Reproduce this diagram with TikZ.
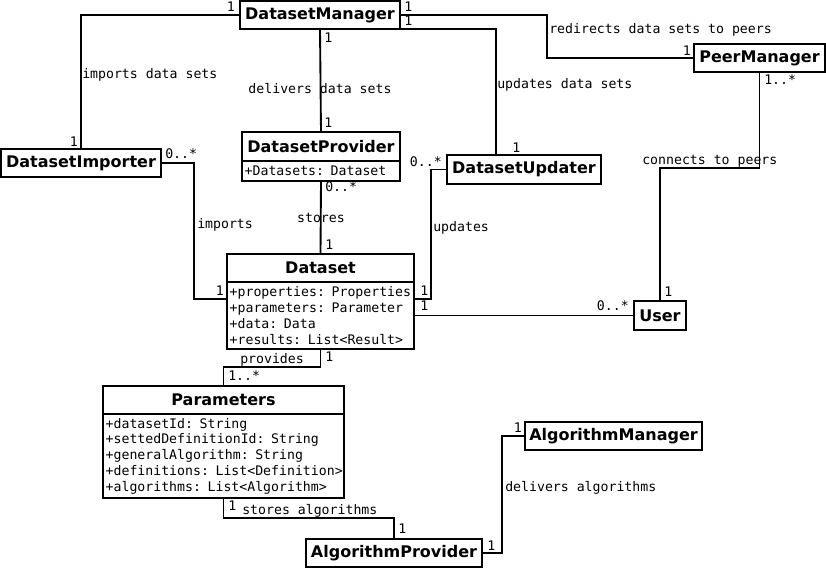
\documentclass[tikz,border=0pt]{standalone}
\usepackage{fontspec}
\setmainfont{DejaVu Sans}
\newfontfamily\umlmono{DejaVu Sans Mono}
\newcommand{\px}{0.75pt}
\newcommand{\umlline}{1.4pt}

\begin{document}
\begin{tikzpicture}[x=\px, y=-\px,
        classbox/.style={draw, line width=\umlline, anchor=north west, inner sep=0pt, outer sep=0pt,
            minimum height=28*\px, font=\bfseries\fontsize{12}{14}\selectfont},
        attrbox/.style={draw, line width=\umlline, anchor=north west, inner xsep=2pt, outer sep=0pt,
            inner ysep=0pt, align=left, font=\umlmono\fontsize{9.9}{11.8}\selectfont},
        assoc/.style={line width=\umlline},
        lab/.style={inner sep=0pt, font=\umlmono\fontsize{9.9}{11.8}\selectfont}]
        \useasboundingbox (0,0) rectangle (826,570);

        % classes
        \node[classbox, minimum width=160*\px] (mgr) at (240,1) {DatasetManager};
        \node[classbox, minimum width=131*\px] (peer) at (694,44) {PeerManager};
        \node[classbox, minimum width=160*\px] (imp) at (1,149) {DatasetImporter};
        \node[classbox, minimum width=158*\px, minimum height=29*\px] (prov) at (242,132) {DatasetProvider};
        \node[attrbox, text width=114.5pt, minimum height=20*\px] (provattr) at (prov.south west) {+Datasets: Dataset};
        \node[classbox, minimum width=154*\px, minimum height=29*\px] (upd) at (447,155) {DatasetUpdater};
        \node[classbox, minimum width=187*\px] (ds) at (227,254) {Dataset};
        \node[attrbox, text width=136.25pt, minimum height=67*\px] (dsattr) at (ds.south west)
            {\mbox{+properties: Properties}\\+parameters: Parameter\\+data: Data\\+results: List<Result>};
        \node[classbox, minimum width=52*\px, minimum height=29*\px] (user) at (634,301) {User};
        \node[classbox, minimum width=241*\px] (par) at (103,386) {Parameters};
        \node[attrbox, text width=176.75pt, minimum height=84*\px] (parattr) at (par.south west)
            {+datasetId: String\\+settedDefinitionId: String\\+generalAlgorithm: String\\\mbox{+definitions: List<Definition>}\\+algorithms: List<Algorithm>};
        \node[classbox, minimum width=177*\px] (algm) at (525,422) {AlgorithmManager};
        \node[classbox, minimum width=176*\px] (algp) at (306,539) {AlgorithmProvider};

        % bend points
        \coordinate (bendD) at (496,29);
        \coordinate (bendE) at (194,299);
        \coordinate (bendG) at (431,299);

        % associations
        \draw[assoc] (mgr.west) -| (imp.north);
        \draw[assoc] (mgr.south) -- (prov.north);
        \draw[assoc] (mgr.east) -- ++(147,0) |- (peer.west);
        \draw[assoc] (mgr.south east) -| (bendD |- upd.north);
        \draw[assoc] (imp.east) -| (bendE) -- (bendE -| dsattr.west);
        \draw[assoc] (provattr.south) -- (ds.north);
        \draw[assoc] (upd.west) -| (bendG) -- (bendG -| dsattr.east);
        \draw[assoc] (user.west -| dsattr.east) -- (user.west);
        \draw[assoc] (peer.south) -- ++(0,96) -| (user.north);
        \draw[assoc] (dsattr.south) -- ++(0,18) -| (par.north);
        \draw[assoc] (parattr.south) -- ++(0,20) -| (algp.north);
        \draw[assoc] (algp.east) -- ++(20,0) |- (algm.west);

        % multiplicities
        \node[lab, anchor=base east] (mMgrImp) at (235,12) {1};
        \node[lab, anchor=base east] (mImpMgr) at (78,147) {1};
        \node[lab, anchor=base west] (mMgrPeer) at (404,12) {1};
        \node[lab, anchor=base west] (mMgrUpd) at (404,26) {1};
        \node[lab, anchor=base east] (mPeerMgr) at (691,56) {1};
        \node[lab, anchor=base west] (mUpdMgr) at (512,153) {1};
        \node[lab, anchor=base west] (mMgrProv) at (324,43) {1};
        \node[lab, anchor=base west] (mProvMgr) at (324,128) {1};
        \node[lab, anchor=base west] (mImpDs) at (165,159) {0..*};
        \node[lab, anchor=base east] (mDsImp) at (224,296) {1};
        \node[lab, anchor=base west] (mProvDs) at (325,192) {0..*};
        \node[lab, anchor=base west] (mDsProv) at (325,250) {1};
        \node[lab, anchor=base east] (mUpdDs) at (442,167) {0..*};
        \node[lab, anchor=base west] (mDsUpd) at (420,296) {1};
        \node[lab, anchor=base west] (mDsUser) at (420,311) {1};
        \node[lab, anchor=base east] (mUserDs) at (629,311) {0..*};
        \node[lab, anchor=base west] (mPeerUser) at (764,85) {1..*};
        \node[lab, anchor=base west] (mUserPeer) at (664,297) {1};
        \node[lab, anchor=base west] (mDsPar) at (325,362) {1};
        \node[lab, anchor=base west] (mParDs) at (228,381) {1..*};
        \node[lab, anchor=base west] (mParAlgp) at (228,511) {1};
        \node[lab, anchor=base west] (mAlgpPar) at (398,534) {1};
        \node[lab, anchor=base west] (mAlgpAlgm) at (487,551) {1};
        \node[lab, anchor=base east] (mAlgmAlgp) at (522,433) {1};

        % association names
        \node[lab, anchor=base west] (lImports) at (82,79) {imports data sets};
        \node[lab, anchor=base] (lDelivers) at (320,94) {delivers data sets};
        \node[lab, anchor=base west] (lRedirects) at (549,34) {redirects data sets to peers};
        \node[lab, anchor=base west] (lUpdatesSets) at (497,89) {updates data sets};
        \node[lab, anchor=base west] (lImportsDs) at (197,229) {imports};
        \node[lab, anchor=base] (lStores) at (321,223) {stores};
        \node[lab, anchor=base west] (lUpdates) at (433,232) {updates};
        \node[lab, anchor=base west] (lConnects) at (642,165) {connects to peers};
        \node[lab, anchor=base west] (lProvides) at (240,364) {provides};
        \node[lab, anchor=base west] (lStoresAlg) at (242,515) {stores algorithms};
        \node[lab, anchor=base west] (lDeliversAlg) at (505,492) {delivers algorithms};
    \end{tikzpicture}
\end{document}
